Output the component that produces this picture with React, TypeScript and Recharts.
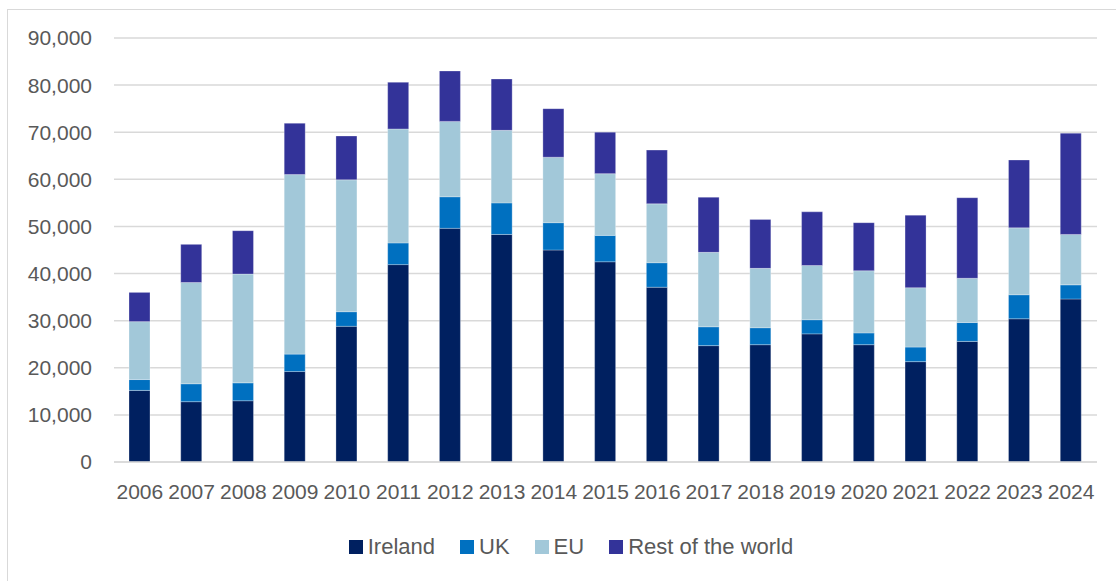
import React from 'react';
import { BarChart, Bar, XAxis, YAxis, CartesianGrid, Legend } from 'recharts';

const years = ['2006', '2007', '2008', '2009', '2010', '2011', '2012', '2013', '2014', '2015', '2016', '2017', '2018', '2019', '2020', '2021', '2022', '2023', '2024'];
const ireland = [15200, 12800, 13000, 19200, 28800, 41900, 49600, 48300, 45000, 42500, 37100, 24700, 24900, 27200, 24900, 21300, 25600, 30400, 34600];
const uk = [2300, 3800, 3800, 3700, 3100, 4600, 6700, 6700, 5800, 5600, 5200, 4000, 3600, 3000, 2500, 3100, 4000, 5100, 3000];
const eu = [12300, 21500, 23100, 38100, 28000, 24200, 16000, 15400, 13900, 13100, 12500, 15800, 12600, 11500, 13200, 12600, 9400, 14200, 10700];
const restOfWorld = [6200, 8100, 9200, 10900, 9300, 9900, 10700, 10900, 10300, 8800, 11400, 11700, 10400, 11400, 10200, 15400, 17100, 14400, 21500];
const yTicks = [0, 10000, 20000, 30000, 40000, 50000, 60000, 70000, 80000, 90000];

const series = [
  { key: 'ireland', name: 'Ireland', color: '#002060' },
  { key: 'uk', name: 'UK', color: '#0070C0' },
  { key: 'eu', name: 'EU', color: '#A2C8D9' },
  { key: 'rest', name: 'Rest of the world', color: '#333399' },
];

const data = years.map((year, i) => ({
  year,
  ireland: ireland[i],
  uk: uk[i],
  eu: eu[i],
  rest: restOfWorld[i],
}));

const FONT = '"Liberation Sans", Arial, sans-serif';

const LegendContent = () => (
  <div style={{ display: 'flex', justifyContent: 'center', alignItems: 'center', fontFamily: FONT, fontSize: 22, color: '#595959', height: 30, paddingLeft: 45 }}>
    {series.map((s, i) => (
      <div key={s.key} style={{ display: 'flex', alignItems: 'center', marginLeft: i === 0 ? 0 : 25 }}>
        <span style={{ display: 'inline-block', width: 14, height: 14, background: s.color, marginRight: 5 }} />
        <span>{s.name}</span>
      </div>
    ))}
  </div>
);

export default function App() {
  return (
    <div style={{ position: 'absolute', left: 0, top: 0, width: 1116, height: 581, background: '#fff', overflow: 'hidden' }}>
      <div style={{ position: 'absolute', left: 7, top: 9, width: 1200, height: 700, border: '1px solid #d9d9d9' }} />
      <div style={{ position: 'absolute', left: 0, top: 0 }}>
        <BarChart width={1116} height={581} data={data} margin={{ top: 38, right: 19, bottom: 19, left: 0 }} barSize={21}>
          <CartesianGrid vertical={false} stroke="#d9d9d9" strokeWidth={1.5} />
          <XAxis
            dataKey="year"
            tickLine={false}
            axisLine={{ stroke: '#d9d9d9', strokeWidth: 1.5 }}
            tickMargin={16}
            height={70}
            interval={0}
            tick={{ fill: '#595959', fontSize: 21, fontFamily: FONT }}
          />
          <YAxis
            domain={[0, 90000]}
            ticks={yTicks}
            width={114}
            tickLine={false}
            axisLine={false}
            tickMargin={16}
            tickFormatter={(v: number) => v.toLocaleString('en-US')}
            tick={{ fill: '#595959', fontSize: 21, fontFamily: FONT }}
          />
          <Legend verticalAlign="bottom" content={<LegendContent />} />
          {series.map(s => (
            <Bar key={s.key} dataKey={s.key} name={s.name} stackId="a" fill={s.color} stroke="#ffffff" strokeOpacity={0.35} strokeWidth={0.8} isAnimationActive={false} />
          ))}
        </BarChart>
      </div>
    </div>
  );
}
